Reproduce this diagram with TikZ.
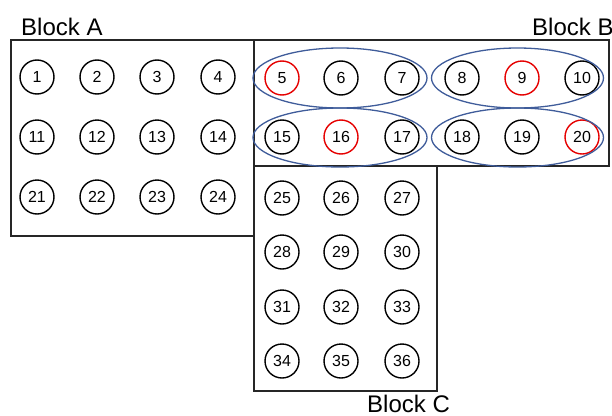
\documentclass[tikz,border=0pt]{standalone}
\usepackage{fontspec}
\setmainfont{Liberation Sans}
\begin{document}
\begin{tikzpicture}[x=1pt,y=-1pt,
  blk/.style={draw=black!85,line width=1.5pt},
  num/.style={circle,draw=black,line width=1.4pt,minimum size=34pt,inner sep=0pt,font=\fontsize{16}{16}\selectfont},
  rnum/.style={num,draw=red!90!black},
  lbl/.style={font=\fontsize{24}{24}\selectfont,inner sep=0pt}]
\definecolor{grpblue}{HTML}{3F5C9A}
\tikzset{grp/.style={line width=1.3pt,draw=grpblue}}
\useasboundingbox (0,0) rectangle (612,415);
% blocks
\draw[blk] (11,40) rectangle (254,236);
\draw[blk] (254,40) rectangle (609,166);
\draw[blk] (254,166) rectangle (437,391);
% labels
\node[lbl,anchor=base west] (la) at (21,35) {Block A};
\node[lbl,anchor=base west] (lb) at (532,35) {Block B};
\node[lbl,anchor=base west] (lc) at (367,412) {Block C};
% Block A circles
\foreach \i/\x in {1/37,2/97,3/157,4/218}{\node[num] (n\i) at (\x,77) {\i};}
\foreach \i/\x in {11/37,12/97,13/157,14/218}{\node[num] (n\i) at (\x,137) {\i};}
\foreach \i/\x in {21/37,22/97,23/157,24/218}{\node[num] (n\i) at (\x,197) {\i};}
% Block B circles
\node[rnum] (n5) at (282,78) {5};
\node[num] (n6) at (341,78) {6};
\node[num] (n7) at (402,78) {7};
\node[num] (n8) at (462,78) {8};
\node[rnum] (n9) at (522,78) {9};
\node[num] (n10) at (582,78) {10};
\node[num] (n15) at (282,137) {15};
\node[rnum] (n16) at (341,137) {16};
\node[num] (n17) at (402,137) {17};
\node[num] (n18) at (462,137) {18};
\node[num] (n19) at (522,137) {19};
\node[rnum] (n20) at (582,137) {20};
% Block C circles
\foreach \i/\x/\y in {25/282/198,26/341/198,27/402/198,
                      28/282/252,29/341/252,30/402/252,
                      31/282/307,32/341/307,33/402/307,
                      34/282/361,35/341/361,36/402/361}{\node[num] (n\i) at (\x,\y) {\i};}
% groups
\draw[grp] (340,78) ellipse [x radius=87,y radius=30];
\draw[grp] (517.5,78) ellipse [x radius=86,y radius=30];
\draw[grp] (340,137.5) ellipse [x radius=87,y radius=29.5];
\draw[grp] (517.5,137.5) ellipse [x radius=86,y radius=29.5];
\end{tikzpicture}
\end{document}
